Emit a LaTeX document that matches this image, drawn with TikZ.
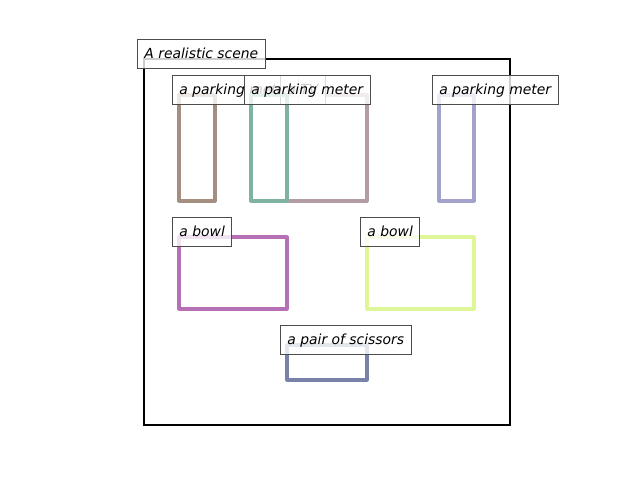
\documentclass[tikz,border=0pt]{standalone}
\usepackage{fontspec}
\newfontfamily\lblfont{DejaVu Sans}
\usepackage{tikz}
\usetikzlibrary{positioning}
\definecolor{pmbrown}{RGB}{164,142,127}
\definecolor{pmgreen}{RGB}{126,178,162}
\definecolor{tvmauve}{RGB}{180,156,164}
\definecolor{pmblue}{RGB}{162,162,202}
\definecolor{bwmagenta}{RGB}{182,112,182}
\definecolor{bwlime}{RGB}{222,246,152}
\definecolor{scslate}{RGB}{120,130,168}
\begin{document}
\begin{tikzpicture}[x=0.72pt,y=-0.72pt,
  frame/.style={draw,black,line width=1.6pt},
  bbox/.style={line width=2.25pt,line join=round},
  lbl/.style={draw=black!70,line width=0.72pt,fill=white,fill opacity=0.8,text opacity=1,
    anchor=west,inner xsep=5pt,inner ysep=0pt,minimum height=20.2pt,
    text height=0.83em,text depth=0.17em,font=\lblfont\itshape\fontsize{10}{12}\selectfont}]
  \useasboundingbox (0,0) rectangle (640,480);
  % Scene
  \draw[frame] (144,59) rectangle (510,425);
  \node[lbl] (scene) at (137,54) {A realistic scene};
  % Parking meters
  \draw[bbox,pmbrown] (179,95) rectangle (215,201);
  \node[lbl] (meter1) at (172,90) {a parking meter};
  \draw[bbox,tvmauve] (287,95) rectangle (367,201);
  \node[lbl] (tv) at (280,90) {a TV};
  \draw[bbox,pmgreen] (251,95) rectangle (287,201);
  \node[lbl] (meter2) at (244,90) {a parking meter};
  \draw[bbox,pmblue] (439,95) rectangle (474,201);
  \node[lbl] (meter3) at (432,90) {a parking meter};
  % Bowls
  \draw[bbox,bwmagenta] (179,237) rectangle (287,309);
  \node[lbl] (bowl1) at (172,232) {a bowl};
  \draw[bbox,bwlime] (367,237) rectangle (474,309);
  \node[lbl] (bowl2) at (360,232) {a bowl};
  % Scissors
  \draw[bbox,scslate] (287,345) rectangle (367,380);
  \node[lbl] (scissors) at (280,340) {a pair of scissors};
\end{tikzpicture}
\end{document}
